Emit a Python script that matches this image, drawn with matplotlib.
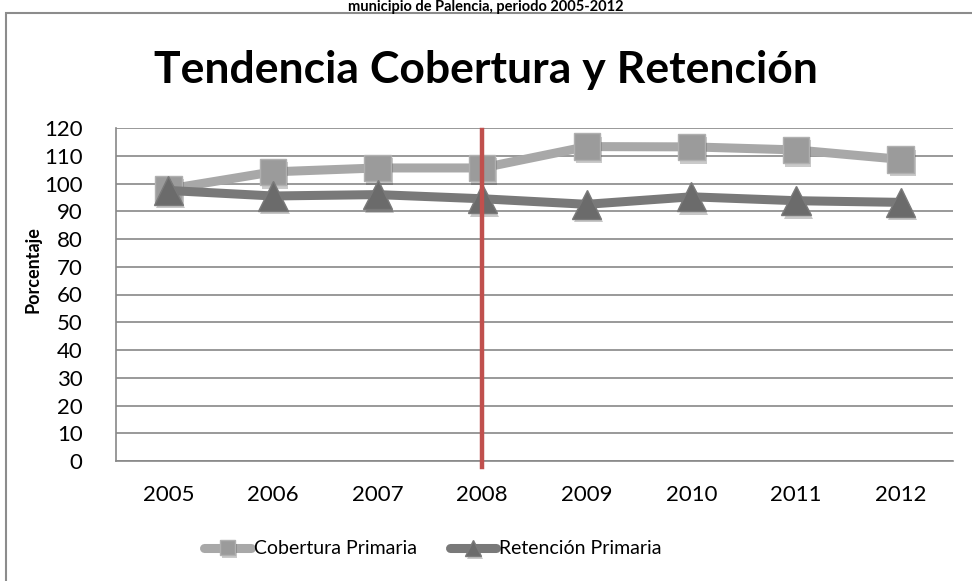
import matplotlib.pyplot as plt
import matplotlib.patches as patches
import matplotlib.patheffects as pe
from matplotlib.legend_handler import HandlerTuple

years = ['2005', '2006', '2007', '2008', '2009', '2010', '2011', '2012']
cobertura = [98.0, 104.2, 105.6, 105.6, 113.3, 113.2, 112.1, 108.7]
retencion = [97.5, 95.5, 96.0, 94.5, 92.5, 95.2, 93.8, 93.2]
yticks = list(range(0, 121, 10))

plt.rcParams['font.family'] = ['Lato', 'DejaVu Sans']

W, H = 972, 581
fig = plt.figure(figsize=(9.72, 5.81), dpi=100)
ax = fig.add_axes([116 / W, (H - 461) / H, (953 - 116) / W, (461 - 128) / H])

# chart border
fig.patches.append(patches.Rectangle((6 / W, -0.01), 1.0, (H - 13) / H + 0.01,
                                     transform=fig.transFigure, fill=False,
                                     edgecolor='#8c8c8c', linewidth=1.5))

fig.text(0.5, 1.0, 'municipio de Palencia, periodo 2005-2012', ha='center',
         va='top', fontsize=10.5, fontweight='bold')
fig.text(0.5, (H - 70) / H, 'Tendencia Cobertura y Retención', ha='center',
         va='center', fontsize=32, fontweight='bold')

x = list(range(len(years)))
mark_sh = [pe.SimplePatchShadow(offset=(1.5, -2.5), alpha=0.25), pe.Normal()]

l1, = ax.plot(x, cobertura, color='#a8a8a8', linewidth=6.5, zorder=3,
              solid_capstyle='round')
m1, = ax.plot(x, cobertura, linestyle='none', marker='s', markersize=19,
              markerfacecolor='#9b9b9b', markeredgecolor='#b0b0b0',
              markeredgewidth=1, zorder=3, path_effects=mark_sh)
l2, = ax.plot(x, retencion, color='#797979', linewidth=6.5, zorder=4,
              solid_capstyle='round')
m2, = ax.plot(x, retencion, linestyle='none', marker='^', markersize=21,
              markerfacecolor='#6b6b6b', markeredgecolor='#7a7a7a',
              markeredgewidth=1, zorder=4, path_effects=mark_sh)

ax.plot([3, 3], [-2.0, 119.3], color='#c0504d', linewidth=3.2, zorder=5,
        clip_on=False)

ax.set_xlim(-0.5, 7.5)
ax.set_ylim(0, 120)
ax.set_yticks(yticks)
ax.set_yticklabels([str(v) for v in yticks], fontsize=16)
ax.set_xticks(x)
ax.set_xticklabels(years, fontsize=16)
ax.tick_params(axis='x', length=0, pad=17)
ax.tick_params(axis='y', length=0, pad=24)
ax.yaxis.grid(True, color='#888888', linewidth=1.2)
ax.set_axisbelow(True)
for s in ['top', 'right']:
    ax.spines[s].set_visible(False)
for s in ['left', 'bottom']:
    ax.spines[s].set_color('#888888')
    ax.spines[s].set_linewidth(1.2)
ax.set_ylabel('Porcentaje', fontsize=13, fontweight='bold')
ax.yaxis.set_label_coords(-(116 - 42) / (953 - 116), 0.575)

ax.legend([(l1, m1), (l2, m2)], ['Cobertura Primaria', 'Retención Primaria'],
          handler_map={tuple: HandlerTuple(ndivide=1)},
          loc='center', bbox_to_anchor=(433 / W, (H - 549) / H),
          bbox_transform=fig.transFigure, ncol=2, frameon=False, fontsize=14,
          handlelength=2.4, handletextpad=0.15, columnspacing=1.7,
          markerscale=0.55)

fig.savefig('out.png', dpi=100)
